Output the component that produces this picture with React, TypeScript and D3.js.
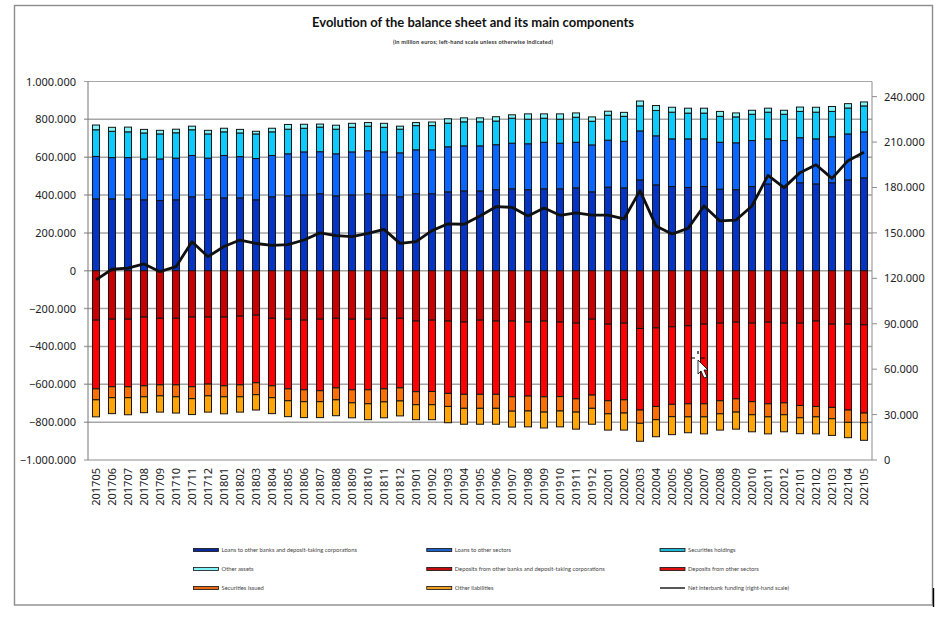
import * as d3 from "d3";
import React from "react";

// months shown on the category axis
const MONTHS = [
  "201705","201706","201707","201708","201709","201710","201711","201712",
  "201801","201802","201803","201804","201805","201806","201807","201808","201809","201810","201811","201812",
  "201901","201902","201903","201904","201905","201906","201907","201908","201909","201910","201911","201912",
  "202001","202002","202003","202004","202005","202006","202007","202008","202009","202010","202011","202012",
  "202101","202102","202103","202104","202105",
];

// assets, million euros
const loansBanks = [380000,380000,380000,375000,371000,375000,391000,377000,385000,385000,375000,391000,396000,401000,407000,396000,401000,407000,401000,391000,407000,407000,417000,422000,422000,428000,433000,428000,433000,433000,438000,417000,442000,438000,480000,454000,445000,440000,445000,431000,428000,445000,459000,445000,465000,459000,465000,480000,491000];
const loansOther = [224000,218000,218000,216000,220000,220000,218000,218000,224000,218000,218000,218000,222000,227000,222000,222000,227000,227000,227000,232000,232000,232000,238000,238000,238000,238000,241000,243000,246000,241000,241000,248000,248000,246000,259000,259000,252000,257000,252000,248000,248000,243000,238000,243000,238000,238000,243000,243000,243000];
const securities = [141000,139000,136000,137000,132000,134000,136000,128000,125000,125000,130000,125000,130000,125000,130000,130000,130000,130000,130000,125000,128000,128000,125000,127000,127000,125000,132000,130000,127000,127000,132000,125000,132000,132000,132000,134000,141000,136000,136000,137000,137000,139000,141000,139000,139000,141000,134000,137000,137000];
const otherAssets = [25000,21000,25000,19000,19000,19000,19000,19000,19000,19000,14000,19000,25000,21000,16000,21000,21000,19000,21000,16000,16000,19000,23000,21000,21000,23000,18000,28000,23000,28000,23000,23000,21000,21000,26000,26000,26000,26000,26000,26000,21000,21000,21000,21000,23000,26000,26000,23000,21000];

// liabilities, million euros (drawn below zero)
const depositsBanks = [261000,256000,256000,245000,251000,251000,245000,245000,245000,240000,235000,251000,256000,261000,256000,251000,256000,256000,251000,251000,266000,261000,266000,271000,261000,266000,266000,271000,266000,271000,277000,256000,282000,277000,305000,302000,296000,291000,282000,277000,272000,277000,272000,277000,277000,266000,282000,282000,286000];
const depositsOther = [363000,357000,357000,363000,352000,352000,368000,354000,363000,363000,357000,357000,368000,368000,378000,368000,373000,373000,373000,368000,373000,377000,382000,382000,392000,387000,400000,391000,400000,394000,400000,401000,405000,405000,431000,415000,410000,412000,421000,410000,405000,415000,431000,421000,435000,451000,440000,454000,466000];
const securitiesIssued = [58000,58000,58000,58000,58000,63000,63000,62000,58000,63000,63000,63000,63000,63000,58000,63000,69000,74000,69000,69000,69000,70000,69000,74000,74000,74000,76000,79000,81000,76000,70000,70000,69000,70000,70000,70000,65000,69000,69000,69000,70000,69000,69000,63000,65000,55000,60000,65000,51000];
const otherLiabilities = [90000,84000,90000,84000,86000,86000,84000,86000,90000,81000,81000,84000,84000,84000,84000,84000,79000,84000,84000,79000,79000,79000,86000,84000,84000,84000,84000,84000,84000,84000,90000,84000,86000,90000,95000,90000,95000,84000,90000,86000,90000,90000,90000,90000,84000,90000,88000,81000,93000];

// right-hand scale
const netInterbank = [119000,126000,126800,129500,124400,127700,144200,134300,141000,145300,143000,141800,142200,145300,150000,148200,147500,149700,152300,143100,144200,151500,156000,155700,161200,167300,166900,161200,166400,161600,163300,161800,161800,159200,177900,154600,149300,153000,167800,157900,158500,167800,188000,179900,189800,195000,186000,197700,203200];

const leftTicks = [1000000,800000,600000,400000,200000,0,-200000,-400000,-600000,-800000,-1000000];
const rightTicks = [240000,210000,180000,150000,120000,90000,60000,30000,0];

const stackNames = ["Loans to other banks and deposit-taking corporations","Loans to other sectors","Securities holdings","Other assets","Deposits from other banks and deposit-taking corporations","Deposits from other sectors","Securities issued","Other liabilities"];
const stackValues = [loansBanks,loansOther,securities,otherAssets,depositsBanks.map(v=>-v),depositsOther.map(v=>-v),securitiesIssued.map(v=>-v),otherLiabilities.map(v=>-v)];
const barColors = ["#0533c2","#0a66ff","#0dcbfb","#7ff4fb","#c80000","#ff0000","#fb7006","#ffa508"];
const legendColors = ["#0a2a9c","#1c62c8","#1fb7d6","#7ff4fb","#c40c0c","#e01010","#e86a14","#f0a01e"];

const W = 952, H = 634;
const FONT = "'Noto Sans', sans-serif";
const fmt = (v: number) => d3.format(",")(v).replace(/,/g, ".");

export default function App() {
  const x = d3.scaleBand<string>().domain(MONTHS).range([88, 872]).paddingInner(0.56).paddingOuter(0.28);
  const y = d3.scaleLinear().domain([-1000000, 1000000]).range([460, 81.5]);
  const yR = d3.scaleLinear().domain([0, 250000]).range([460, 81.5]);

  const rows = MONTHS.map((m, i) => {
    const r: any = { month: m };
    stackNames.forEach((n, k) => (r[n] = stackValues[k][i]));
    return r;
  });
  const series = d3.stack<any>().keys(stackNames).offset(d3.stackOffsetDiverging)(rows);

  const line = d3.line<number>()
    .x((_, i) => (x(MONTHS[i]) ?? 0) + x.bandwidth() / 2)
    .y(d => yR(d));

  // legend rows run across, three to a row
  const legendItems = [...stackNames.map((n, i) => ({ name: n, color: legendColors[i] })), { name: "Net interbank funding (right-hand scale)", color: "" }];
  const legendX = d3.scalePoint<number>().domain([0, 1, 2]).range([193.5, 660]);
  const legendY = d3.scalePoint<number>().domain([0, 1, 2]).range([550, 588]);

  return (
    <svg width={W} height={H} style={{ position: "absolute", left: 0, top: 0, background: "#fff" }}>
      {/* outer frame */}
      <rect x={14.5} y={5.5} width={918} height={599.5} fill="none" stroke="#8c8c8c" strokeWidth={1.4} />
      <line x1={933.5} x2={933.5} y1={588} y2={607} stroke="#000" strokeWidth={1.4} />

      <text x={473} y={27} textAnchor="middle" fontFamily="Lato, sans-serif" fontWeight={700} fontSize={13} textLength={322} fill="#111">
        Evolution of the balance sheet and its main components
      </text>
      <text x={473} y={44} textAnchor="middle" fontFamily="Lato, sans-serif" fontWeight={700} fontSize={5.6} textLength={160} fill="#333">
        (in million euros; left-hand scale unless otherwise indicated)
      </text>

      {/* gridlines */}
      {leftTicks.map(t => (
        <line key={t} x1={84} x2={872} y1={y(t)} y2={y(t)} stroke={t === -1000000 ? "#8c8c8c" : "#a6a6a6"} strokeWidth={t === 1000000 || t === -1000000 ? 1 : 1.5} />
      ))}
      <line x1={88} x2={88} y1={81.5} y2={460} stroke="#777" strokeWidth={1} />
      <line x1={872} x2={872} y1={81.5} y2={460} stroke="#8c8c8c" strokeWidth={1} />

      {leftTicks.map(t => (
        <text key={t} x={76} y={y(t) + 4} textAnchor="end" fontFamily={FONT} fontSize={11} fill="#222">{fmt(t)}</text>
      ))}
      {rightTicks.map(t => (
        <g key={t}>
          <line x1={872} x2={877} y1={yR(t)} y2={yR(t)} stroke="#8c8c8c" />
          <text x={884} y={yR(t) + 4} fontFamily={FONT} fontSize={11} fill="#222">{fmt(t)}</text>
        </g>
      ))}

      {/* stacked bars */}
      {series.map((s, k) => (
        <g key={s.key} fill={barColors[k]} stroke="#141414" strokeWidth={1}>
          {s.map((d, i) => (
            <rect
              key={i}
              x={x(MONTHS[i])}
              width={x.bandwidth()}
              y={Math.min(y(d[0]), y(d[1]))}
              height={Math.abs(y(d[0]) - y(d[1]))}
            />
          ))}
        </g>
      ))}

      <path d={line(netInterbank) ?? ""} fill="none" stroke="#111" strokeWidth={2.8} strokeLinejoin="round" />

      {MONTHS.map(m => {
        const cx = (x(m) ?? 0) + x.bandwidth() / 2;
        return (
          <text key={m} transform={`translate(${cx + 4},468) rotate(-90)`} textAnchor="end" fontFamily={FONT} fontSize={11} fill="#222">{m}</text>
        );
      })}

      {/* legend */}
      {legendItems.map((it, i) => {
        const lx = legendX(i % 3) ?? 0;
        const ly = legendY(Math.floor(i / 3)) ?? 0;
        return (
          <g key={it.name}>
            {it.color
              ? <rect x={lx} y={ly - 1.5} width={25} height={3} fill={it.color} stroke="#111" strokeWidth={0.8} />
              : <line x1={lx} x2={lx + 25} y1={ly} y2={ly} stroke="#111" strokeWidth={1.4} />}
            <text x={lx + 28} y={ly + 2} fontFamily="Lato, sans-serif" fontSize={5.8} fill="#444">{it.name}</text>
          </g>
        );
      })}

      {/* mouse pointer caught in the screenshot */}
      <g transform="translate(698,360)" stroke="#000" strokeWidth={0.8}>
        <path d="M0,0 L0,14 L3,11 L6,18 L9,17 L6,10 L10,10 Z" fill="#fff" />
        <path d="M-7,-2 L-3,-2 M7,-2 L3,-2 M0,-9 L0,-6" stroke="#000" strokeWidth={1.2} fill="none" />
      </g>
    </svg>
  );
}
